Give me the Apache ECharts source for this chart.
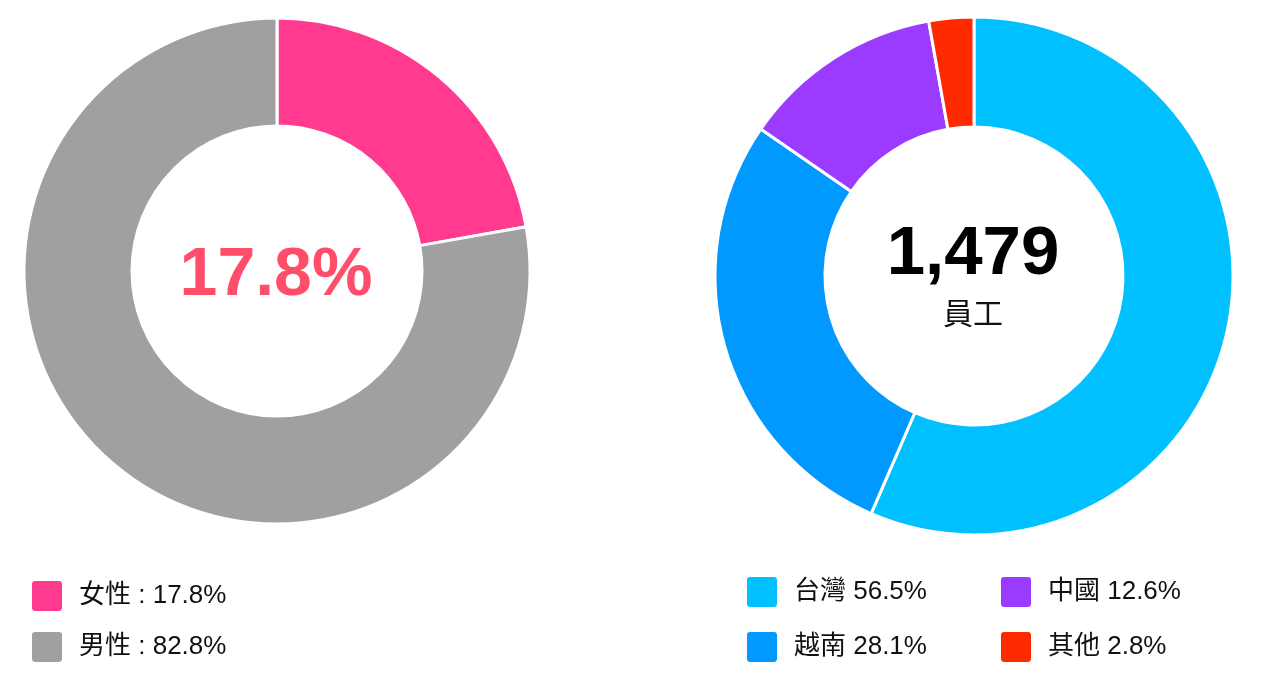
<!DOCTYPE html>
<html>
<head>
<meta charset="utf-8">
<script src="https://cdn.jsdelivr.net/npm/echarts@6/dist/echarts.min.js"></script>
<style>
	html, body { margin:0; padding:0; background:#fff; }
	#chart { width:1279px; height:691px; }
</style>
</head>
<body>
<div id="chart"></div>
<script>
	//性別 (扇形大小依圖面讀取)
	var genderNames = ['女性', '男性'];
	var genderValues = [22.2, 77.8];
	var genderLabels = ['17.8%', '82.8%'];
	var genderColors = ['#ff3a8f', '#a0a0a0'];
	var genderCenterText = '17.8%';

	//地區
	var regionNames = ['台灣', '越南', '中國', '其他'];
	var regionValues = [56.5, 28.1, 12.6, 2.8];
	var regionLabels = ['56.5%', '28.1%', '12.6%', '2.8%'];
	var regionColors = ['#00c0ff', '#0099ff', '#9b3bff', '#ff2a00'];
	var totalText = '1,479';
	var totalUnit = '員工';

	var FONT = '"Liberation Sans", Arial, "Noto Sans CJK TC", sans-serif';
	var ICON = 'path://M4,0H27Q31,0 31,4V27Q31,31 27,31H4Q0,31 0,27V4Q0,0 4,0Z';

	var toData = function(names, values, colors){
		return names.map(function(n, i){
			return {name:n, value:values[i], itemStyle:{color:colors[i]}};
		});
	};

	var labelOf = function(names, labels, sep){
		return function(name){
			return name + sep + labels[names.indexOf(name)];
		};
	};

	var legendBase = function(left, top, gap, data, fmt){
		return {
			orient:'vertical', left:left, top:top, data:data, padding:0,
			icon:ICON, itemWidth:32, itemHeight:32, itemGap:gap,
			selectedMode:false, formatter:fmt,
			textStyle:{fontFamily:FONT, fontSize:26, color:'#111', padding:[0,0,0,11]}
		};
	};

	var chart = echarts.init(document.getElementById('chart'));
	chart.setOption({
		animation:false,
		legend:[
			legendBase(30, 579, 17, genderNames, labelOf(genderNames, genderLabels, ' : ')),
			legendBase(745, 575, 21, ['台灣', '越南'], labelOf(regionNames, regionLabels, ' ')),
			legendBase(999, 575, 21, ['中國', '其他'], labelOf(regionNames, regionLabels, ' '))
		],
		series:[{
			type:'pie', center:[277, 271], radius:[145, 253],
			startAngle:90, clockwise:true,
			label:{show:false}, labelLine:{show:false},
			emphasis:{disabled:true}, silent:true,
			itemStyle:{borderColor:'#fff', borderWidth:3},
			data:toData(genderNames, genderValues, genderColors)
		},{
			type:'pie', center:[974, 276], radius:[149, 259],
			startAngle:90, clockwise:true,
			label:{show:false}, labelLine:{show:false},
			emphasis:{disabled:true}, silent:true,
			itemStyle:{borderColor:'#fff', borderWidth:3},
			data:toData(regionNames, regionValues, regionColors)
		}],
		graphic:[{
			type:'text', x:276, y:276,
			style:{text:genderCenterText, fill:'#ff4d6a', font:'bold 68px ' + FONT, align:'center', verticalAlign:'middle'}
		},{
			type:'text', x:973, y:255,
			style:{text:totalText, fill:'#000', font:'bold 69px ' + FONT, align:'center', verticalAlign:'middle'}
		},{
			type:'text', x:973, y:316,
			style:{text:totalUnit, fill:'#111', font:'30px ' + FONT, align:'center', verticalAlign:'middle'}
		}]
	});
</script>
</body>
</html>
